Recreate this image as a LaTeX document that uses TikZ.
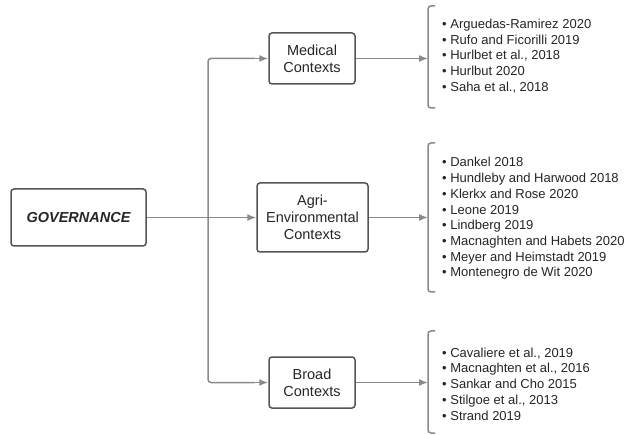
\documentclass[tikz,border=0pt]{standalone}
\usepackage{fontspec}
\setmainfont{Liberation Sans}
\usetikzlibrary{arrows.meta}
\definecolor{boxc}{HTML}{555555}
\definecolor{linec}{HTML}{8A8A8A}
\definecolor{txtc}{HTML}{262626}
\tikzset{
  ctx/.style={draw=boxc, line width=1.5pt, rounded corners=3pt, fill=white, align=center,
    text=txtc, font=\fontsize{14.5}{17}\selectfont, inner sep=0pt},
  conn/.style={draw=linec, line width=1.5pt, -{Latex[length=9pt,width=7pt]}},
  trunk/.style={draw=linec, line width=1.5pt, rounded corners=3pt},
  brk/.style={draw=linec, line width=1.5pt, rounded corners=3pt},
  lst/.style={anchor=west, align=left, text=txtc, font=\fontsize{13}{15.7}\selectfont, inner sep=0pt}
}
\begin{document}
\begin{tikzpicture}[x=1pt,y=-1pt]
\useasboundingbox[fill=white] (0,0) rectangle (626,435);
% boxes
\node[ctx, minimum width=135pt, minimum height=57pt, font=\fontsize{14.5}{17}\selectfont\bfseries\itshape] (gov) at (78.5,217.5) {GOVERNANCE};
\node[ctx, minimum width=86pt, minimum height=51pt] (med) at (312,58.5) {Medical\\Contexts};
\node[ctx, minimum width=111pt, minimum height=69pt] (agr) at (312.5,217.5) {Agri-\\Environmental\\Contexts};
\node[ctx, minimum width=86pt, minimum height=51pt] (brd) at (312,382.5) {Broad\\Contexts};
% trunk
\coordinate (jt) at (208,218);
\draw[conn] (gov.east |- agr.west) -- (agr.west);
\draw[trunk] (jt) -- (208,58.5) -- ([xshift=-14pt]med.west);
\draw[conn] ([xshift=-15pt]med.west) -- (med.west);
\draw[trunk] (jt) -- (208,382.5) -- ([xshift=-14pt]brd.west);
\draw[conn] ([xshift=-15pt]brd.west) -- (brd.west);
% brackets
\coordinate (mb) at (428,58.5);
\coordinate (ab) at (428,217.5);
\coordinate (bb) at (428,382.5);
\draw[brk] (435,6) -- (428,6) -- (428,108) -- (435,108);
\draw[brk] (435,143) -- (428,143) -- (428,292) -- (435,292);
\draw[brk] (435,331) -- (428,331) -- (428,433) -- (435,433);
\draw[conn] (med.east) -- (mb);
\draw[conn] (agr.east) -- (ab);
\draw[conn] (brd.east) -- (bb);
% lists
\node[lst] (ml) at (442,56) {• Arguedas-Ramirez 2020\\• Rufo and Ficorilli 2019\\• Hurlbet et al., 2018\\• Hurlbut 2020\\• Saha et al., 2018};
\node[lst] (al) at (442,218.5) {• Dankel 2018\\• Hundleby and Harwood 2018\\• Klerkx and Rose 2020\\• Leone 2019\\• Lindberg 2019\\• Macnaghten and Habets 2020\\• Meyer and Heimstadt 2019\\• Montenegro de Wit 2020};
\node[lst] (bl) at (442,384) {• Cavaliere et al., 2019\\• Macnaghten et al., 2016\\• Sankar and Cho 2015\\• Stilgoe et al., 2013\\• Strand 2019};
\end{tikzpicture}
\end{document}
